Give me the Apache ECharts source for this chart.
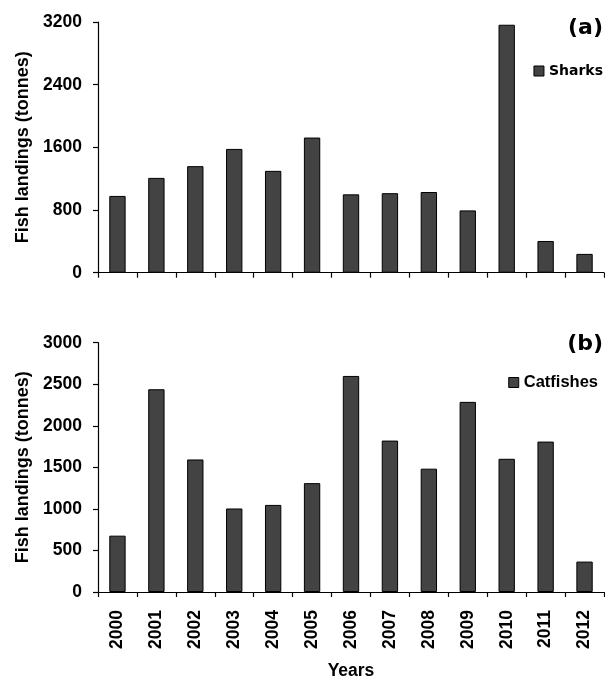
<!DOCTYPE html>
<html>
<head>
<meta charset="utf-8">
<script src="https://cdn.jsdelivr.net/npm/echarts@6/dist/echarts.min.js"></script>
<style>html,body{margin:0;padding:0;background:#fff;}#c{width:605px;height:681px;}</style>
</head>
<body>
<div id="c"></div>
<script>
const years = ['2000','2001','2002','2003','2004','2005','2006','2007','2008','2009','2010','2011','2012'];
const sharks = [980, 1210, 1360, 1580, 1300, 1725, 1000, 1015, 1030, 795, 3165, 405, 240];
const catfishes = [678, 2440, 1595, 1005, 1048, 1310, 2600, 1822, 1484, 2288, 1603, 1810, 366];
const sharksTicks = {min: 0, max: 3200, interval: 800};
const catfishTicks = {min: 0, max: 3000, interval: 500};

const chart = echarts.init(document.getElementById('c'));
const FONT = '"Liberation Sans", Arial, sans-serif';
const VERD = '"DejaVu Sans", Verdana, sans-serif';
const axisLine = {show: true, lineStyle: {color: '#000', width: 1.2}};
function xAx(idx, showLabels) {
  return {
    type: 'category', gridIndex: idx, data: years,
    axisLine: axisLine,
    axisTick: {show: true, interval: 0, length: 5, lineStyle: {color: '#000', width: 1.2}},
    axisLabel: {show: showLabels, interval: 0, rotate: 90, margin: 18, color: '#000',
      fontFamily: FONT, fontWeight: 'bold', fontSize: 17.5},
    name: showLabels ? 'Years' : '',
    nameLocation: 'middle', nameGap: 70,
    nameTextStyle: {color: '#000', fontFamily: FONT, fontWeight: 'bold', fontSize: 17.5}
  };
}
function yAx(idx, t) {
  return {
    type: 'value', gridIndex: idx, min: t.min, max: t.max, interval: t.interval,
    axisLine: axisLine,
    axisTick: {show: true, length: 5, lineStyle: {color: '#000', width: 1.2}},
    splitLine: {show: false},
    axisLabel: {margin: 16, color: '#000', fontFamily: FONT, fontWeight: 'bold', fontSize: 17.5,
      formatter: function (v) { return String(v); }},
    name: 'Fish landings (tonnes)', nameLocation: 'middle', nameGap: 64,
    nameTextStyle: {color: '#000', fontFamily: FONT, fontWeight: 'bold', fontSize: 18}
  };
}
const barStyle = {color: '#434343', borderColor: '#000', borderWidth: 1};
chart.setOption({
  animation: false,
  backgroundColor: '#fff',
  grid: [
    {left: 98, top: 22, width: 506, height: 250.7},
    {left: 98, top: 342.7, width: 506, height: 250.6}
  ],
  xAxis: [xAx(0, false), xAx(1, true)],
  yAxis: [yAx(0, sharksTicks), yAx(1, catfishTicks)],
  legend: [
    {data: ['Sharks'], right: 2, top: 64, padding: 0, icon: 'rect', itemWidth: 10, itemHeight: 10,
      itemStyle: {borderColor: '#000', borderWidth: 1},
      textStyle: {color: '#000', fontFamily: VERD, fontWeight: 'bold', fontSize: 14}},
    {data: ['Catfishes'], right: 7, top: 374, padding: 0, icon: 'rect', itemWidth: 10, itemHeight: 10,
      itemStyle: {borderColor: '#000', borderWidth: 1},
      textStyle: {color: '#000', fontFamily: FONT, fontWeight: 'bold', fontSize: 16.5}}
  ],
  graphic: [
    {type: 'text', right: 2, top: 17, style: {text: '(a)', font: 'bold 22px ' + VERD, fill: '#000'}},
    {type: 'text', right: 2, top: 333, style: {text: '(b)', font: 'bold 22px ' + VERD, fill: '#000'}}
  ],
  series: [
    {name: 'Sharks', type: 'bar', xAxisIndex: 0, yAxisIndex: 0, data: sharks, barWidth: '42%', itemStyle: barStyle},
    {name: 'Catfishes', type: 'bar', xAxisIndex: 1, yAxisIndex: 1, data: catfishes, barWidth: '42%', itemStyle: barStyle}
  ]
});
</script>
</body>
</html>
